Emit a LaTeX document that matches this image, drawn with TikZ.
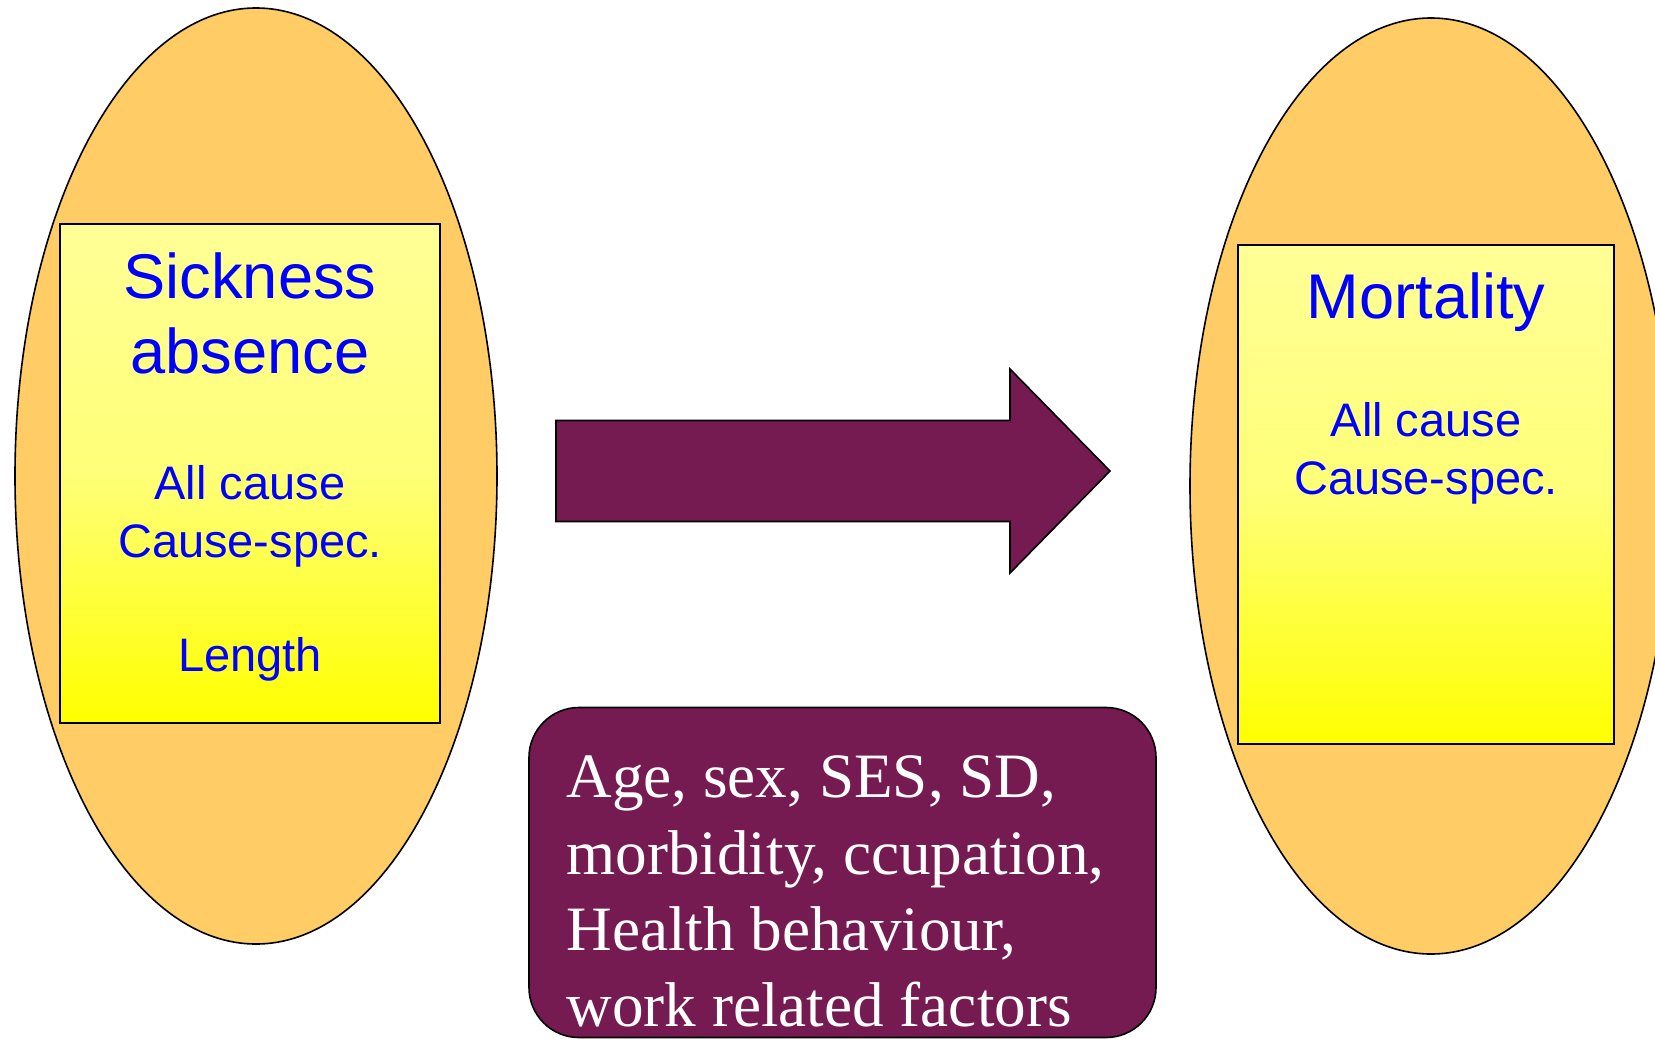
\documentclass[tikz,border=0pt]{standalone}
\usepackage{fontspec}
\setmainfont{Liberation Serif}
\setsansfont{Liberation Sans}
\usetikzlibrary{shapes.geometric}
\definecolor{ovalfill}{RGB}{255,204,102}
\definecolor{plum}{RGB}{118,27,82}
\definecolor{paleyellow}{RGB}{255,255,150}
\definecolor{textblue}{RGB}{0,0,255}
\begin{document}
\begin{tikzpicture}[x=0.5pt,y=-0.5pt,
  oval/.style={ellipse, draw=black, line width=0.8pt, fill=ovalfill,
    minimum width=241pt, minimum height=468pt, inner sep=0pt},
  panel/.style={rectangle, draw=black, line width=0.8pt, inner sep=0pt,
    top color=paleyellow, bottom color=yellow, middle color={rgb,255:red,255;green,255;blue,120},
    minimum height=249.5pt},
  title/.style={font=\sffamily\fontsize{31.6}{37}\selectfont, text=textblue, anchor=base, inner sep=0pt},
  item/.style={font=\sffamily\fontsize{23.5}{29}\selectfont, text=textblue, anchor=base, inner sep=0pt},
  factor/.style={font=\rmfamily\fontsize{31.6}{38}\selectfont, text=white, anchor=base west, inner sep=0pt}]
\useasboundingbox (0,0) rectangle (1655,1039);
\clip (0,0) rectangle (1655,1039);
\fill[white] (0,0) rectangle (1655,1039);

% left oval: sickness absence
\node[oval] (leftoval) at (256,476) {};
\node[panel, minimum width=190pt] (leftpanel) at (250,473.5) {};
\node[title] (sick) at (250,298) {Sickness};
\node[title] (abs) at (250,373) {absence};
\node[item] (lall) at (250,499) {All cause};
\node[item] (lspec) at (250,557) {Cause-spec.};
\node[item] (llen) at (250,671) {Length};

% right oval: mortality
\node[oval] (rightoval) at (1431,486) {};
\node[panel, minimum width=188pt] (rightpanel) at (1426,494.5) {};
\node[title] (mort) at (1426,318) {Mortality};
\node[item] (rall) at (1426,436) {All cause};
\node[item] (rspec) at (1426,494) {Cause-spec.};

% block arrow between the ovals
\coordinate (atail) at (556,420.5);
\coordinate (atip) at (1110,471);
\filldraw[fill=plum, draw=black, line width=0.8pt]
  (atail) -- (1010,420.5) -- (1010,369) -- (atip)
  -- (1010,573) -- (1010,521.5) -- (556,521.5) -- cycle;

% confounders box
\node[rectangle, rounded corners=25pt, draw=black, line width=0.8pt, fill=plum,
  minimum width=313.5pt, minimum height=165pt, inner sep=0pt] (factors) at (842.5,872.5) {};
\node[factor] (f1) at (566,797) {Age, sex, SES, SD,};
\node[factor] (f2) at (566,874) {morbidity, ccupation,};
\node[factor] (f3) at (566,950) {Health behaviour,};
\node[factor] (f4) at (566,1026) {work related factors};
\end{tikzpicture}
\end{document}
